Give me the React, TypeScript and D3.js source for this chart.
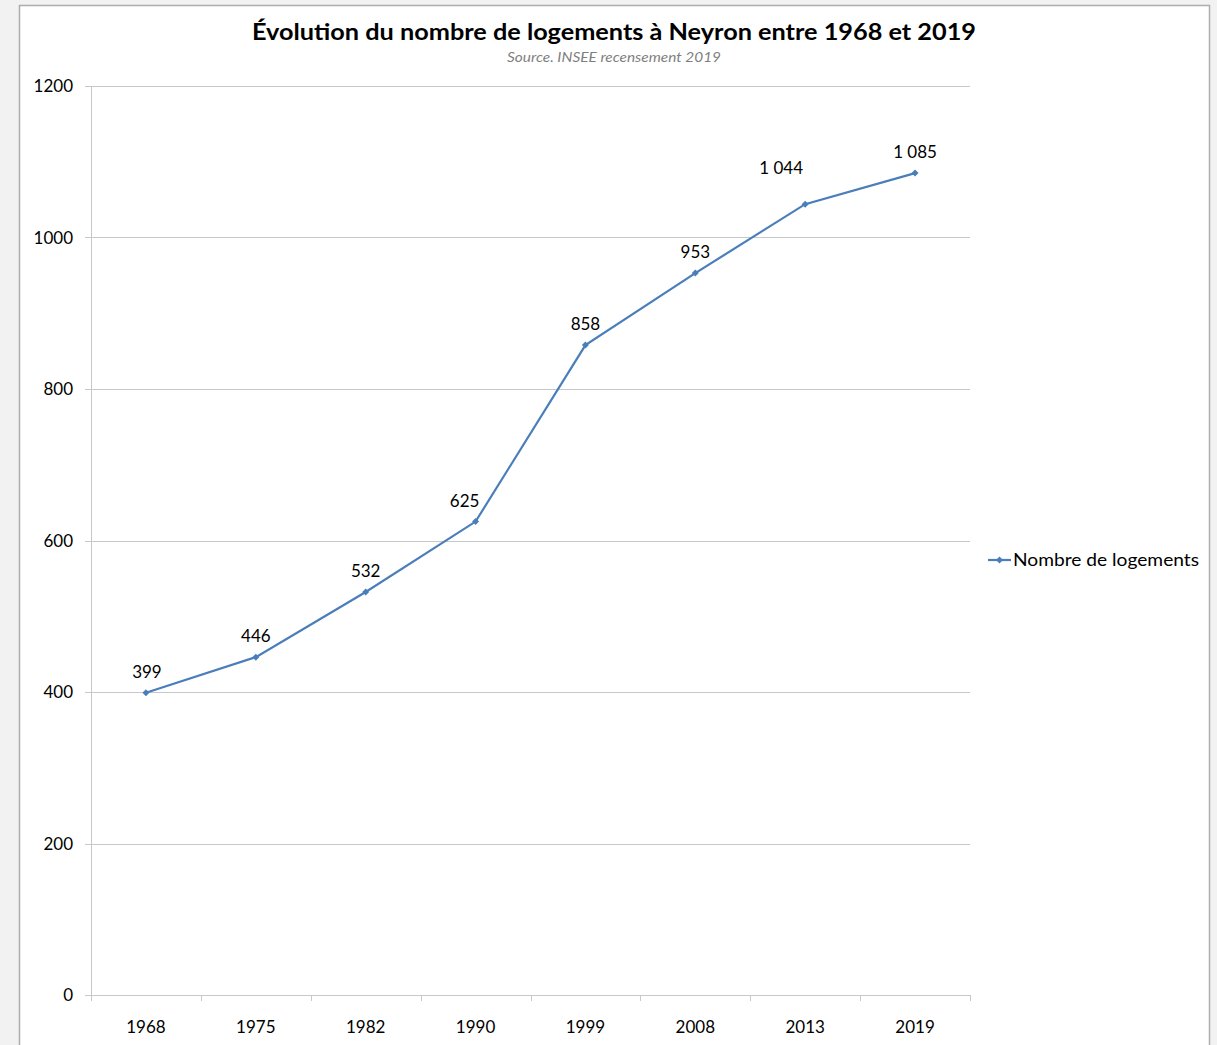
import React from "react";
import * as d3 from "d3";

const years = ["1968", "1975", "1982", "1990", "1999", "2008", "2013", "2019"];
const logements = [399, 446, 532, 625, 858, 953, 1044, 1085];
const yTicks = [0, 200, 400, 600, 800, 1000, 1200];
const title = "Évolution du nombre de logements à Neyron entre 1968 et 2019";
const subtitle = "Source. INSEE recensement 2019";
const seriesName = "Nombre de logements";

// label nudges (layout only), as in the reference
const labelDx = [1, 0, 0, -11, 0, 0, -24, 0];
const labelDy = [0, 0, 0, 0, 0, 0, -15, 0];

const W = 1217, H = 1045;
const plot = { left: 91, right: 970, top: 86, bottom: 995 };
const FONT = "Lato, 'Open Sans', sans-serif";
const BLUE = "#4a7ebb";

const fmt = (v: number) => {
  const s = String(v);
  return v >= 1000 ? s.slice(0, s.length - 3) + "\u00a0" + s.slice(-3) : s;
};

export default function App() {
  const x = d3.scaleBand<string>().domain(years).range([plot.left, plot.right]);
  const y = d3.scaleLinear().domain([0, 1200]).range([plot.bottom, plot.top]);
  const cx = (d: string) => (x(d) ?? 0) + x.bandwidth() / 2;
  const line = d3.line<number>().x((_, i) => cx(years[i])).y((v) => y(v));
  const diamond = (px: number, py: number, r = 3.5) =>
    `M${px},${py - r}L${px + r},${py}L${px},${py + r}L${px - r},${py}Z`;
  const boundaries = d3.range(years.length + 1).map((i) => plot.left + i * x.bandwidth());

  return (
    <svg width={W} height={H} style={{ position: "absolute", left: 0, top: 0, display: "block" }}>
      <rect x={0} y={0} width={W} height={H} fill="#f2f2f2" />
      <rect x={19.5} y={5.5} width={1190} height={H + 10} fill="#ffffff" stroke="#adadad" strokeWidth={1.5} />
      <text x={614} y={40} textAnchor="middle" fontFamily={FONT} fontWeight="bold" fontSize={23} fill="#000"
        textLength={724} lengthAdjust="spacingAndGlyphs">{title}</text>
      <text x={614} y={62} textAnchor="middle" fontFamily={FONT} fontStyle="italic" fontSize={13} fill="#7f7f7f"
        textLength={214} lengthAdjust="spacingAndGlyphs">{subtitle}</text>
      {yTicks.map((t) => (
        <g key={t}>
          <line x1={plot.left - 6} x2={plot.right} y1={Math.round(y(t)) + 0.5} y2={Math.round(y(t)) + 0.5} stroke="#c8c8c8" strokeWidth={1} />
          <text x={73} y={y(t) + 6} textAnchor="end" fontFamily={FONT} fontSize={17} fill="#000">{t}</text>
        </g>
      ))}
      <line x1={plot.left + 0.5} x2={plot.left + 0.5} y1={plot.top} y2={plot.bottom + 6} stroke="#c8c8c8" />
      {boundaries.map((b, i) => (
        <line key={i} x1={Math.round(b) + 0.5} x2={Math.round(b) + 0.5} y1={plot.bottom} y2={plot.bottom + 6} stroke="#c8c8c8" />
      ))}
      {years.map((yr) => (
        <text key={yr} x={cx(yr)} y={1033} textAnchor="middle" fontFamily={FONT} fontSize={17} fill="#000">{yr}</text>
      ))}
      <path d={line(logements) ?? ""} fill="none" stroke={BLUE} strokeWidth={2.2} />
      {logements.map((v, i) => (
        <g key={i}>
          <path d={diamond(cx(years[i]), y(v))} fill={BLUE} />
          <text x={cx(years[i]) + labelDx[i]} y={y(v) - 15 + labelDy[i]} textAnchor="middle" fontFamily={FONT} fontSize={17} fill="#000">{fmt(v)}</text>
        </g>
      ))}
      <line x1={988} x2={1011} y1={560} y2={560} stroke={BLUE} strokeWidth={2.2} />
      <path d={diamond(999.5, 560)} fill={BLUE} />
      <text x={1013} y={566} fontFamily={FONT} fontSize={17} fill="#000" textLength={186} lengthAdjust="spacingAndGlyphs">{seriesName}</text>
    </svg>
  );
}
